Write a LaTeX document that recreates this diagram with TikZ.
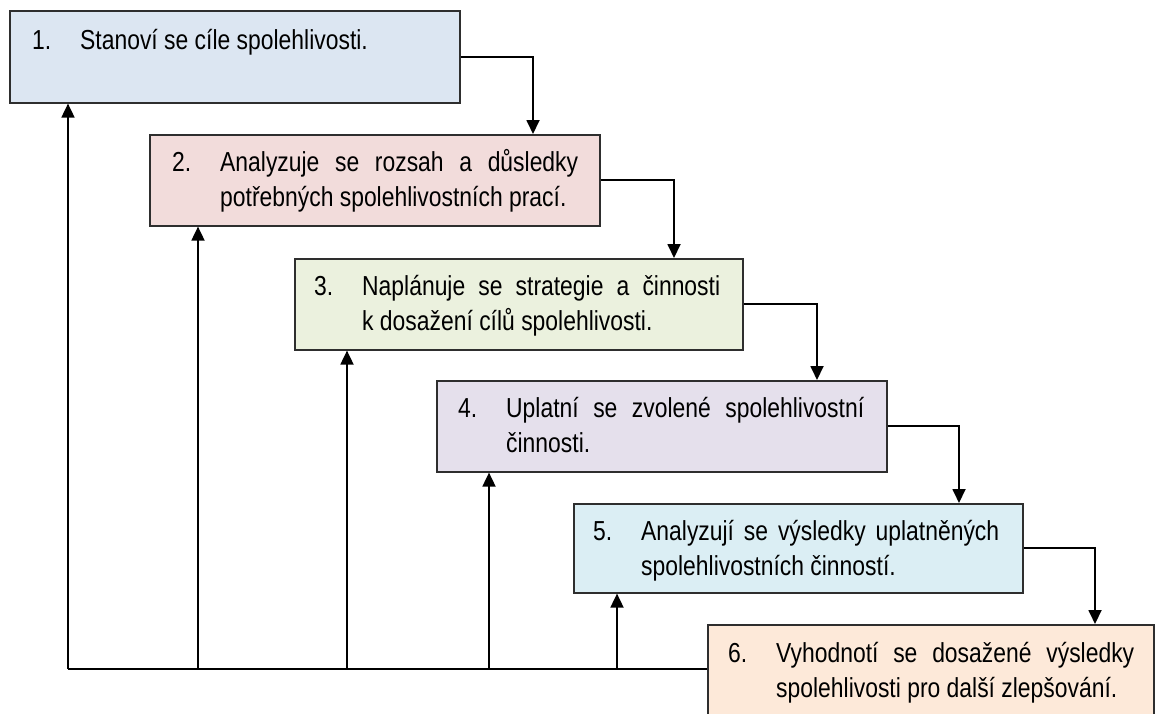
\documentclass[tikz,border=0pt]{standalone}
\usepackage{fontspec}
\setmainfont{Liberation Sans}
\usetikzlibrary{arrows.meta}

\definecolor{boxA}{HTML}{DCE6F2}
\definecolor{boxB}{HTML}{F2DCDB}
\definecolor{boxC}{HTML}{EBF1DE}
\definecolor{boxD}{HTML}{E5E0EC}
\definecolor{boxE}{HTML}{DBEEF4}
\definecolor{boxF}{HTML}{FDE9D9}
\definecolor{edge}{HTML}{2E2E2E}

% numbered, justified step text with a hanging indent
\newcommand{\steptext}[2]{%
  \scalebox{1}[1.2]{\parbox[t]{406pt}{\hangindent=48pt\hangafter=1
    \makebox[48pt][l]{#1}#2}}}

\tikzset{
  stepbox/.style={draw=edge, line width=1.6pt, rectangle, inner sep=0pt,
    anchor=north west, minimum width=450pt, minimum height=91pt},
  steplabel/.style={anchor=base west, inner sep=0pt, text=black,
    font=\fontsize{22.9}{29.2}\selectfont},
  flow/.style={draw=black, line width=1.8pt,
    -{Triangle[width=13pt,length=14pt]}},
  bus/.style={draw=black, line width=1.8pt}
}

\begin{document}
\begin{tikzpicture}[x=1pt,y=-1pt]
  \clip (0,0) rectangle (1155,713);
  \fill[white] (0,0) rectangle (1155,713);

  % the six steps
  \node[stepbox, fill=boxA, minimum width=450pt, minimum height=92pt] (b1) at (9,10) {};
  \node[stepbox, fill=boxB] (b2) at (149,134) {};
  \node[stepbox, fill=boxC, minimum width=448pt] (b3) at (294,258) {};
  \node[stepbox, fill=boxD] (b4) at (436,380) {};
  \node[stepbox, fill=boxE, minimum width=449pt, minimum height=89pt] (b5) at (573,503) {};
  \node[stepbox, fill=boxF, minimum width=446pt, minimum height=120pt] (b6) at (707,624) {};

  \node[steplabel] (t1) at ([xshift=23pt,yshift=-39pt]b1.north west)
    {\steptext{1.}{Stanoví se cíle spolehlivosti.}};
  \node[steplabel] (t2) at ([xshift=23pt,yshift=-37pt]b2.north west)
    {\steptext{2.}{Analyzuje se rozsah a důsledky\linebreak potřebných spolehlivostních prací.}};
  \node[steplabel] (t3) at ([xshift=20pt,yshift=-37pt]b3.north west)
    {\steptext{3.}{Naplánuje se strategie a činnosti\linebreak k~dosažení cílů spolehlivosti.}};
  \node[steplabel] (t4) at ([xshift=22pt,yshift=-37pt]b4.north west)
    {\steptext{4.}{Uplatní se zvolené spolehlivostní\linebreak činnosti.}};
  \node[steplabel] (t5) at ([xshift=20pt,yshift=-37pt]b5.north west)
    {\steptext{5.}{Analyzují se výsledky uplatněných\linebreak spolehlivostních činností.}};
  \node[steplabel] (t6) at ([xshift=21pt,yshift=-38pt]b6.north west)
    {\steptext{6.}{Vyhodnotí se dosažené výsledky\linebreak spolehlivosti pro další zlepšování.}};

  % forward flow: each step feeds the next one
  \draw[flow] (b1.east) -| ([xshift=384pt]b2.north west);
  \draw[flow] (b2.east) -| ([xshift=380pt]b3.north west);
  \draw[flow] (b3.east) -| ([xshift=381pt]b4.north west);
  \draw[flow] (b4.east) -| ([xshift=386pt]b5.north west);
  \draw[flow] (b5.east) -| ([xshift=388pt]b6.north west);

  % feedback from the evaluation back to every earlier step
  \coordinate (f1) at (68,669);
  \coordinate (f2) at (198,669);
  \coordinate (f3) at (347,669);
  \coordinate (f4) at (489,669);
  \coordinate (f5) at (617,669);
  \draw[bus] (f1) -- (f1 -| b6.west);
  \draw[flow] (f1) -- (f1 |- b1.south);
  \draw[flow] (f2) -- (f2 |- b2.south);
  \draw[flow] (f3) -- (f3 |- b3.south);
  \draw[flow] (f4) -- (f4 |- b4.south);
  \draw[flow] (f5) -- (f5 |- b5.south);
\end{tikzpicture}
\end{document}
